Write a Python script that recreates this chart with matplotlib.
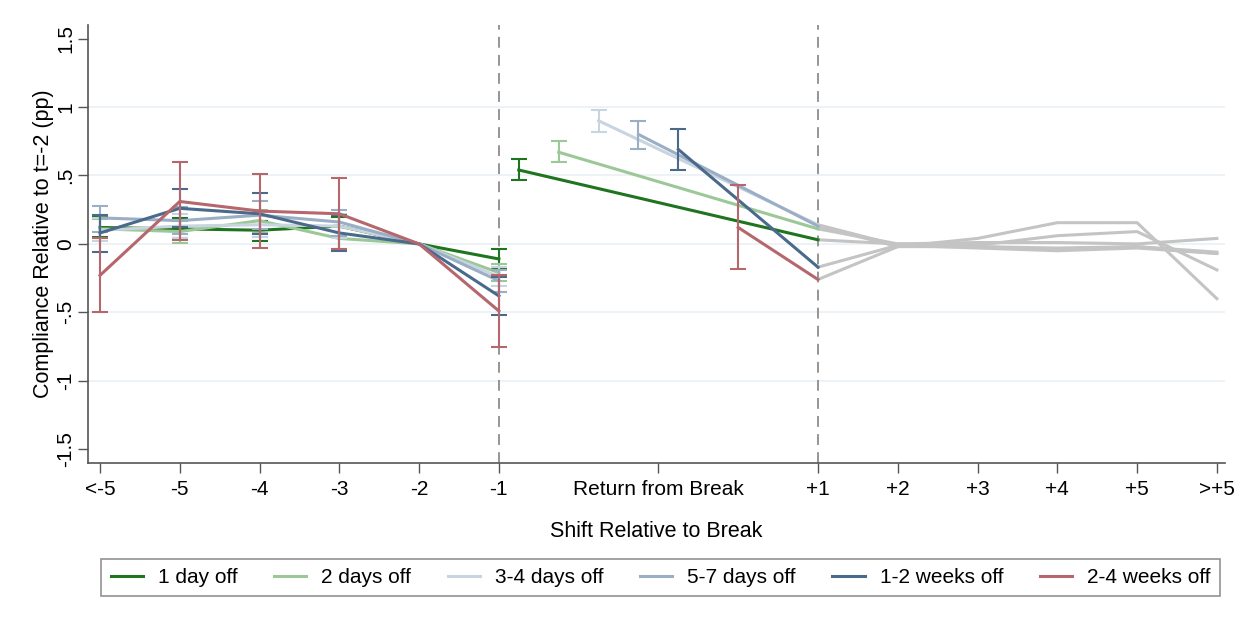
import matplotlib
matplotlib.use("Agg")
import matplotlib.pyplot as plt
from matplotlib.lines import Line2D

plt.rcParams['font.family'] = ['Liberation Sans', 'DejaVu Sans']

# Break-length groups and their colours
groups = ['1 day off', '2 days off', '3-4 days off', '5-7 days off', '1-2 weeks off', '2-4 weeks off']
colors = ['#1f741f', '#9cc898', '#c9d4e1', '#9aaec6', '#4a6a8c', '#b5676d']
post_color = '#c4c4c4'

# Shifts before the break: <-5, -5, -4, -3, -2, -1
pre_x = [0, 1, 2, 3, 4, 5]
pre_est = [
    [0.12, 0.11, 0.10, 0.13, 0.0, -0.11],
    [0.11, 0.09, 0.17, 0.04, 0.0, -0.21],
    [0.10, 0.13, 0.14, 0.13, 0.0, -0.24],
    [0.19, 0.17, 0.21, 0.16, 0.0, -0.27],
    [0.08, 0.26, 0.22, 0.08, 0.0, -0.38],
    [-0.23, 0.31, 0.24, 0.22, 0.0, -0.49],
]
pre_lo = [
    [0.05, 0.04, 0.02, 0.05, None, -0.18],
    [0.04, 0.01, 0.08, -0.04, None, -0.27],
    [0.02, 0.04, 0.05, 0.04, None, -0.31],
    [0.09, 0.07, 0.11, 0.06, None, -0.35],
    [-0.06, 0.12, 0.07, -0.05, None, -0.52],
    [-0.50, 0.03, -0.03, -0.04, None, -0.75],
]
pre_hi = [
    [0.20, 0.19, 0.17, 0.20, None, -0.04],
    [0.18, 0.17, 0.25, 0.12, None, -0.15],
    [0.19, 0.22, 0.23, 0.22, None, -0.17],
    [0.28, 0.27, 0.31, 0.25, None, -0.19],
    [0.21, 0.40, 0.37, 0.21, None, -0.24],
    [0.04, 0.60, 0.51, 0.48, None, -0.23],
]

# Return shift (position within the break window)
ret_x = [5.25, 5.75, 6.25, 6.75, 7.25, 8.0]
ret_est = [0.54, 0.67, 0.90, 0.80, 0.69, 0.12]
ret_lo = [0.47, 0.60, 0.82, 0.69, 0.54, -0.18]
ret_hi = [0.62, 0.75, 0.98, 0.90, 0.84, 0.43]

# Shifts after returning: +1, +2, +3, +4, +5, >+5
post_x = [9, 10, 11, 12, 13, 14]
post_est = [
    [0.03, 0.00, -0.02, -0.04, -0.02, -0.06],
    [0.11, 0.00, 0.01, 0.01, 0.00, 0.04],
    [0.14, -0.01, -0.03, -0.05, -0.03, -0.07],
    [0.13, -0.02, -0.02, -0.03, -0.02, -0.07],
    [-0.17, -0.01, -0.01, 0.06, 0.09, -0.19],
    [-0.26, -0.02, 0.04, 0.155, 0.155, -0.40],
]

tick_pos = [0, 1, 2, 3, 4, 5, 7, 9, 10, 11, 12, 13, 14]
tick_labels = ['<-5', '-5', '-4', '-3', '-2', '-1', 'Return from Break',
               '+1', '+2', '+3', '+4', '+5', '>+5']
y_ticks = [-1.5, -1, -0.5, 0, 0.5, 1, 1.5]
y_labels = ['-1.5', '-1', '-.5', '0', '.5', '1', '1.5']

fig = plt.figure(figsize=(12.52, 6.23), dpi=100)
ax = fig.add_axes([0.0703, 0.257, 0.908, 0.703])

for yv in [-1, -0.5, 0, 0.5, 1]:
    ax.axhline(yv, color='#e9f0f4', lw=1.2, zorder=0)
for xv in [5, 9]:
    ax.axvline(xv, color='#8c8c8c', lw=1.3, ls=(0, (6, 4)), zorder=1)

# grey continuation after the return
for est in post_est:
    ax.plot(post_x, est, color=post_color, lw=2.2, zorder=2)

for i, c in enumerate(colors):
    ax.plot(pre_x, pre_est[i], color=c, lw=2.2, zorder=3 + i)
    for x, lo, hi in zip(pre_x, pre_lo[i], pre_hi[i]):
        if lo is None:
            continue
        ax.errorbar([x], [(lo + hi) / 2], yerr=[[(hi - lo) / 2]], fmt='none',
                    ecolor=c, elinewidth=1.5, capsize=5.5, capthick=1.5, zorder=3 + i)
    ax.plot([ret_x[i], post_x[0]], [ret_est[i], post_est[i][0]], color=c, lw=2.2, zorder=3 + i)
    ax.errorbar([ret_x[i]], [(ret_lo[i] + ret_hi[i]) / 2],
                yerr=[[(ret_hi[i] - ret_lo[i]) / 2]], fmt='none',
                ecolor=c, elinewidth=1.5, capsize=5.5, capthick=1.5, zorder=3 + i)

ax.set_xlim(-0.15, 14.1)
ax.set_ylim(-1.6, 1.6)
ax.set_xticks(tick_pos)
ax.set_xticklabels(tick_labels)
ax.set_yticks(y_ticks)
ax.set_yticklabels(y_labels, rotation=90, va='center')
ax.tick_params(axis='both', direction='out', length=7, width=1, color='#555555',
               labelsize=15, pad=5)
ax.tick_params(axis='y', pad=2)
for side in ['top', 'right']:
    ax.spines[side].set_visible(False)
for side in ['left', 'bottom']:
    ax.spines[side].set_color('#555555')
    ax.spines[side].set_linewidth(1.2)

ax.set_xlabel('Shift Relative to Break', fontsize=15.5, labelpad=16)
ax.set_ylabel('Compliance Relative to t=-2 (pp)', fontsize=15.5, labelpad=2)

handles = [Line2D([0], [0], color=c, lw=2.2) for c in colors]
leg = fig.legend(handles, groups, loc='center', bbox_to_anchor=(0.5276, 0.073),
                 ncol=6, fontsize=15, frameon=True, fancybox=False,
                 handlelength=1.55, columnspacing=1.75, borderpad=0.45, handletextpad=0.72)
leg.get_frame().set_edgecolor('#777777')
leg.get_frame().set_linewidth(1.2)

fig.savefig('out.png', dpi=100)
